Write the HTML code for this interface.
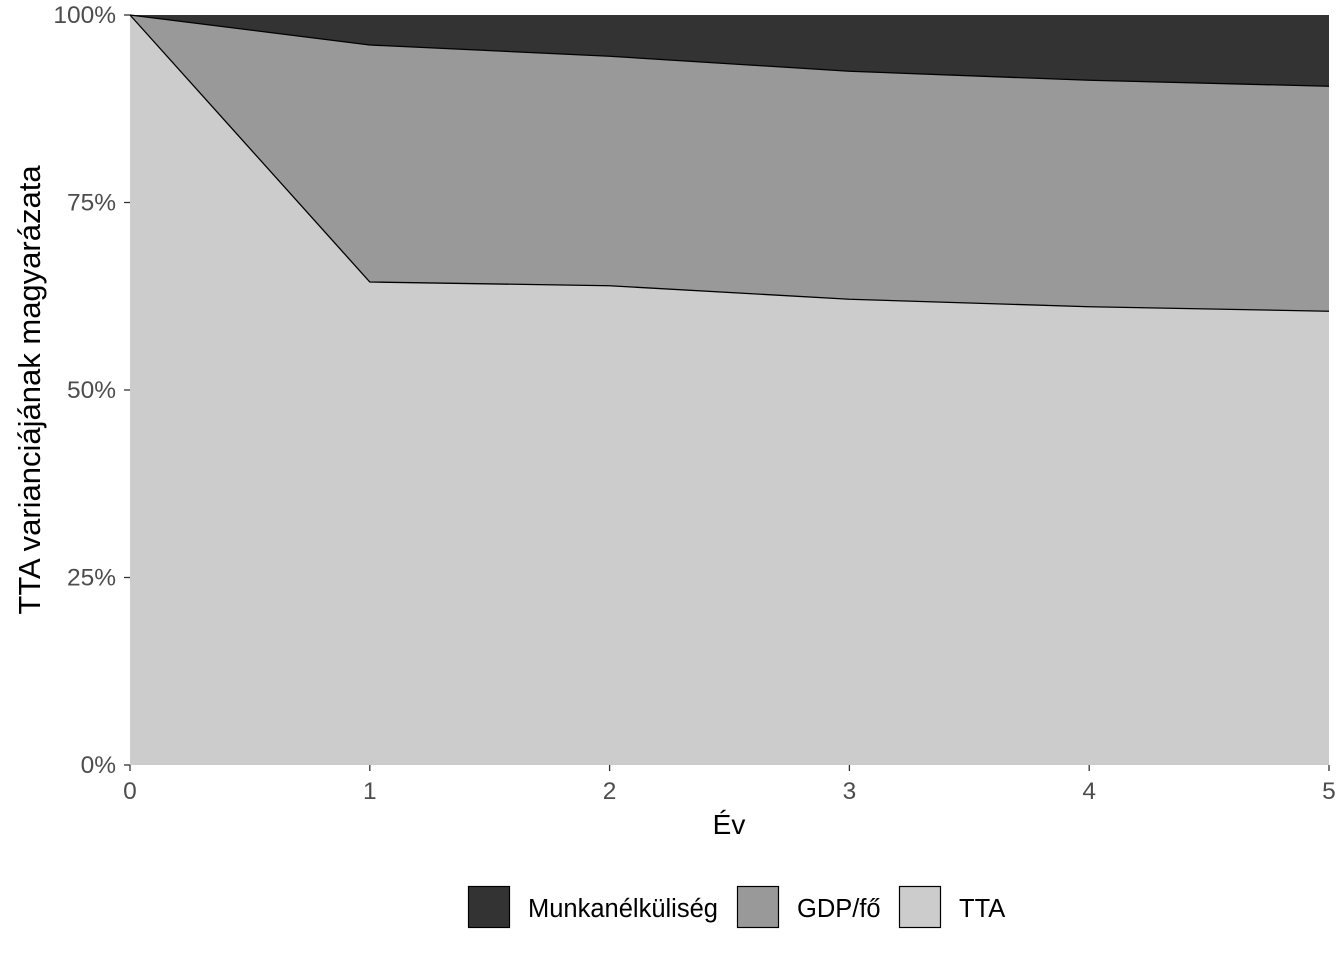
<!DOCTYPE html>
<html><head><meta charset="utf-8"><style>
body{margin:0;background:#fff;}
svg{display:block;font-family:"Liberation Sans",Arial,sans-serif;}
</style></head><body>
<svg id="chart" width="1344" height="960"></svg>
<script>
const years=[0,1,2,3,4,5];
const tta=[100,64.4,63.9,62.1,61.1,60.5];
const gdp=[0,31.6,30.6,30.4,30.2,30.0];
const munka=[0,4.0,5.5,7.5,8.7,9.5];
const yTicks=[0,25,50,75,100];
const yTickLabels=["0%","25%","50%","75%","100%"];
const xTickLabels=["0","1","2","3","4","5"];

const NS="http://www.w3.org/2000/svg";
const svg=document.getElementById('chart');
const X0=130,X1=1329,Y0=765,Y1=15;
const xs=v=>X0+(v-0)/(5-0)*(X1-X0);
const ys=v=>Y0-v/100*(Y0-Y1);
function mk(tag,attrs,parent){const e=document.createElementNS(NS,tag);for(const k in attrs)e.setAttribute(k,attrs[k]);(parent||svg).appendChild(e);return e;}

const c1=years.map((y,i)=>tta[i]);
const c2=years.map((y,i)=>tta[i]+gdp[i]);
const c3=years.map((y,i)=>tta[i]+gdp[i]+munka[i]);
function area(lo,hi){let d='';years.forEach((y,i)=>{d+=(i?'L':'M')+xs(y)+','+ys(hi[i]);});for(let i=years.length-1;i>=0;i--)d+='L'+xs(years[i])+','+ys(lo?lo[i]:0);return d+'Z';}
function line(v){return years.map((y,i)=>(i?'L':'M')+xs(y)+','+ys(v[i])).join('');}

let a=mk('path',{d:area(null,c1),fill:'#cccccc'});

a=mk('path',{d:area(c1,c2),fill:'#999999'});

a=mk('path',{d:area(c2,c3),fill:'#333333'});

a=mk('path',{d:line(c1),fill:'none',stroke:'#000','stroke-width':1.3});

a=mk('path',{d:line(c2),fill:'none',stroke:'#000','stroke-width':1.3});


yTicks.forEach((v,i)=>{
 let t=mk('line',{x1:124,x2:130,y1:ys(v),y2:ys(v),stroke:'#333','stroke-width':1.3});
 
 let l=mk('text',{x:116,y:ys(v)+8,'text-anchor':'end','font-size':24.5,fill:'#4d4d4d'});
 l.textContent=yTickLabels[i];
 
});
years.forEach((v,i)=>{
 let t=mk('line',{x1:xs(v),x2:xs(v),y1:765,y2:771,stroke:'#333','stroke-width':1.3});
 
 let l=mk('text',{x:xs(v),y:799,'text-anchor':'middle','font-size':24.5,fill:'#4d4d4d'});
 l.textContent=xTickLabels[i];
 
});
let t=mk('text',{x:729,y:834,'text-anchor':'middle','font-size':28,fill:'#000'});
t.textContent='Év';
t=mk('text',{x:0,y:0,'text-anchor':'middle','font-size':31,fill:'#000',transform:'translate(40,390) rotate(-90)'});
t.textContent='TTA varianciájának magyarázata';

const legNames=['Munkanélküliség','GDP/fő','TTA'];
const legFills=['#333333','#999999','#cccccc'];
const legX=[468,737,899];
legNames.forEach((n,i)=>{
 let g=mk('g',{});
 
 mk('rect',{x:legX[i]+0.5,y:886.5,width:41,height:41,fill:legFills[i],stroke:'#000','stroke-width':1.2},g);
 let l=mk('text',{x:legX[i]+60,y:917,'font-size':25.5,fill:'#000'},g);
 l.textContent=n;
});
</script>
</body></html>
